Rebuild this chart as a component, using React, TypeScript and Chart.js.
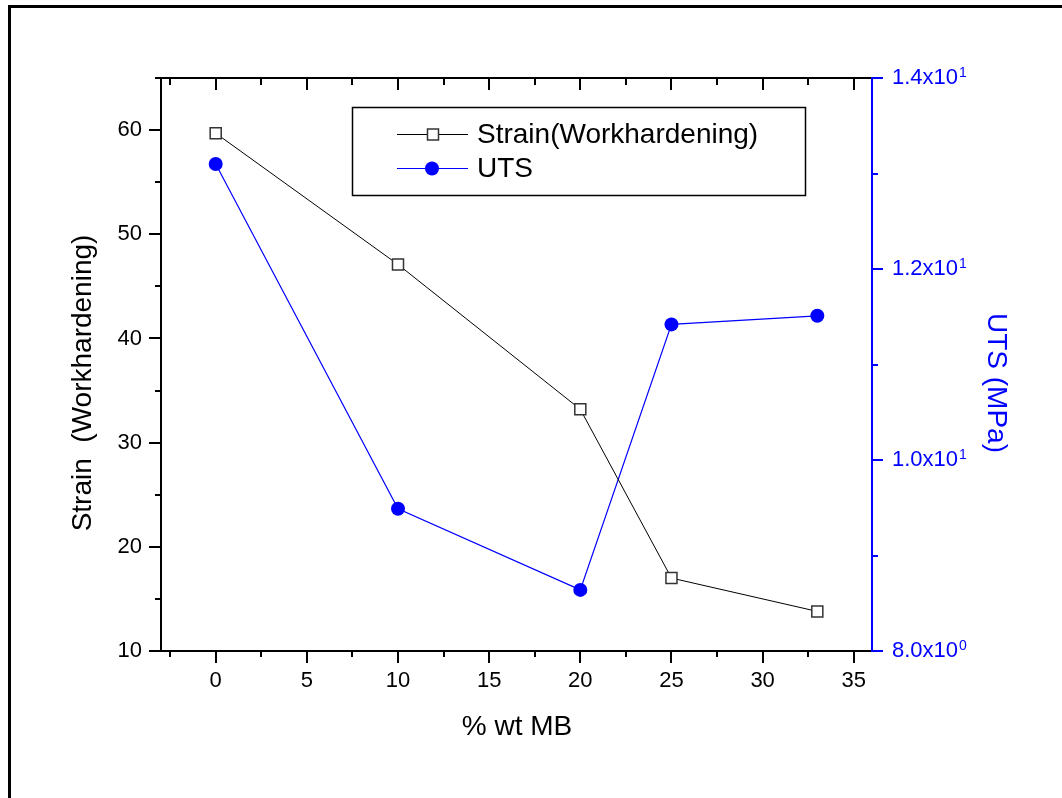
import React, { useEffect, useRef } from "react";
import { Chart, registerables } from "chart.js";

Chart.register(...registerables);

// ---- Data ----
const X_VALUES = [0, 10, 20, 25, 33];
const STRAIN = [59.7, 47.1, 33.2, 17.0, 13.8];
const UTS = [13.1, 9.49, 8.64, 11.42, 11.51];

// ---- Ticks / labels ----
const X_MAJOR = [0, 5, 10, 15, 20, 25, 30, 35];
const X_MINOR = [-2.5, 2.5, 7.5, 12.5, 17.5, 22.5, 27.5, 32.5];
const Y_MAJOR = [10, 20, 30, 40, 50, 60];
const Y_MINOR = [15, 25, 35, 45, 55, 65];
const Y2_MAJOR = [8, 10, 12, 14];
const Y2_MINOR = [9, 11, 13];
const Y2_MANTISSA = ["8.0x10", "1.0x10", "1.2x10", "1.4x10"];
const Y2_EXPONENT = ["0", "1", "1", "1"];

const X_TITLE = "% wt MB";
const Y_TITLE = "Strain  (Workhardening)";
const Y2_TITLE = "UTS (MPa)";
const STRAIN_LABEL = "Strain(Workhardening)";
const UTS_LABEL = "UTS";

const FONT = "'Liberation Sans', Arial, Helvetica, sans-serif";
const BLUE = "#0000ff";

const decor = {
  id: "decor",
  afterDraw(chart: any) {
    const { ctx, chartArea: a, scales } = chart;
    const sx = scales.x;
    const sy = scales.y;
    const sy2 = scales.y1;
    ctx.save();

    // outer frame (clipped at right/bottom)
    ctx.strokeStyle = "#000";
    ctx.lineWidth = 3;
    ctx.beginPath();
    ctx.moveTo(9.5, 820);
    ctx.lineTo(9.5, 6.5);
    ctx.lineTo(1100, 6.5);
    ctx.stroke();

    // black axes
    ctx.lineWidth = 2;
    ctx.strokeStyle = "#000";
    ctx.beginPath();
    ctx.moveTo(a.left, a.top - 1);
    ctx.lineTo(a.left, a.bottom + 1);
    ctx.moveTo(a.left - 1, a.bottom);
    ctx.lineTo(a.right, a.bottom);
    ctx.moveTo(a.left - 1, a.top);
    ctx.lineTo(a.right, a.top);
    ctx.stroke();

    // x ticks bottom (outward) and top (inward)
    ctx.beginPath();
    X_MAJOR.forEach((v) => {
      const px = Math.round(sx.getPixelForValue(v));
      ctx.moveTo(px, a.bottom);
      ctx.lineTo(px, a.bottom + 12);
      ctx.moveTo(px, a.top);
      ctx.lineTo(px, a.top + 12);
    });
    X_MINOR.forEach((v) => {
      const px = Math.round(sx.getPixelForValue(v));
      ctx.moveTo(px, a.bottom);
      ctx.lineTo(px, a.bottom + 6);
      ctx.moveTo(px, a.top);
      ctx.lineTo(px, a.top + 7);
    });
    // left ticks outward
    Y_MAJOR.forEach((v) => {
      const py = Math.round(sy.getPixelForValue(v));
      ctx.moveTo(a.left - 12, py);
      ctx.lineTo(a.left, py);
    });
    Y_MINOR.forEach((v) => {
      const py = Math.round(sy.getPixelForValue(v));
      ctx.moveTo(a.left - 6, py);
      ctx.lineTo(a.left, py);
    });
    ctx.stroke();

    // right blue axis
    ctx.strokeStyle = BLUE;
    ctx.beginPath();
    ctx.moveTo(a.right, a.top - 1);
    ctx.lineTo(a.right, a.bottom + 1);
    Y2_MAJOR.forEach((v) => {
      const py = Math.round(sy2.getPixelForValue(v));
      ctx.moveTo(a.right, py);
      ctx.lineTo(a.right + 11, py);
    });
    Y2_MINOR.forEach((v) => {
      const py = Math.round(sy2.getPixelForValue(v));
      ctx.moveTo(a.right, py);
      ctx.lineTo(a.right + 6, py);
    });
    ctx.stroke();

    // right labels with superscript
    ctx.fillStyle = BLUE;
    Y2_MAJOR.forEach((v, i) => {
      const py = sy2.getPixelForValue(v);
      const lx = a.right + 20;
      ctx.font = `22px ${FONT}`;
      ctx.textAlign = "left";
      ctx.textBaseline = "middle";
      ctx.fillText(Y2_MANTISSA[i], lx, py);
      const w = ctx.measureText(Y2_MANTISSA[i]).width;
      ctx.font = `14px ${FONT}`;
      ctx.textBaseline = "alphabetic";
      ctx.fillText(Y2_EXPONENT[i], lx + w + 1, py - 1);
    });

    // axis titles
    ctx.fillStyle = "#000";
    ctx.font = `28px ${FONT}`;
    ctx.textAlign = "center";
    ctx.textBaseline = "alphabetic";
    ctx.fillText(X_TITLE, 517, 735);

    ctx.save();
    ctx.translate(91, 383);
    ctx.rotate(-Math.PI / 2);
    ctx.fillText(Y_TITLE, 0, 0);
    ctx.restore();

    ctx.save();
    ctx.fillStyle = BLUE;
    ctx.translate(988, 383);
    ctx.rotate(Math.PI / 2);
    ctx.fillText(Y2_TITLE, 0, 0);
    ctx.restore();

    // legend
    const ds = chart.data.datasets;
    ctx.fillStyle = "#fff";
    ctx.fillRect(352, 107, 454, 89);
    ctx.strokeStyle = "#000";
    ctx.lineWidth = 1.5;
    ctx.strokeRect(352.5, 107.5, 453, 88);

    const rows = [134, 168];
    rows.forEach((ry, i) => {
      const d = ds[i];
      ctx.strokeStyle = d.borderColor;
      ctx.lineWidth = 1;
      ctx.beginPath();
      ctx.moveTo(397, ry + 0.5);
      ctx.lineTo(468, ry + 0.5);
      ctx.stroke();
      if (d.pointStyle === "rect") {
        ctx.fillStyle = "#fff";
        ctx.fillRect(427.5, ry - 5, 11, 11);
        ctx.strokeStyle = d.pointBorderColor;
        ctx.lineWidth = 1.5;
        ctx.strokeRect(427.5, ry - 5, 11, 11);
      } else {
        ctx.fillStyle = d.pointBackgroundColor;
        ctx.beginPath();
        ctx.arc(432, ry + 0.5, 7, 0, Math.PI * 2);
        ctx.fill();
      }
      ctx.fillStyle = "#000";
      ctx.font = `28px ${FONT}`;
      ctx.textAlign = "left";
      ctx.textBaseline = "middle";
      ctx.fillText(d.label, 477, ry + 1);
    });

    ctx.restore();
  },
};

export default function App() {
  const ref = useRef<HTMLCanvasElement | null>(null);

  useEffect(() => {
    if (!ref.current) return;
    const chart = new Chart(ref.current, {
      type: "line",
      data: {
        datasets: [
          {
            label: STRAIN_LABEL,
            data: X_VALUES.map((x, i) => ({ x, y: STRAIN[i] })),
            yAxisID: "y",
            borderColor: "#000",
            borderWidth: 1,
            pointStyle: "rect",
            pointRadius: 7.8,
            pointBackgroundColor: "#fff",
            pointBorderColor: "#333",
            pointBorderWidth: 1.5,
            tension: 0,
            fill: false,
          },
          {
            label: UTS_LABEL,
            data: X_VALUES.map((x, i) => ({ x, y: UTS[i] })),
            yAxisID: "y1",
            borderColor: BLUE,
            borderWidth: 1.2,
            pointStyle: "circle",
            pointRadius: 7,
            pointBackgroundColor: BLUE,
            pointBorderColor: BLUE,
            pointBorderWidth: 0,
            tension: 0,
            fill: false,
          },
        ],
      },
      options: {
        responsive: false,
        animation: false,
        devicePixelRatio: 1,
        events: [],
        layout: { padding: { top: 78, left: 0, right: 0, bottom: 0 } },
        plugins: { legend: { display: false }, tooltip: { enabled: false } },
        scales: {
          x: {
            type: "linear",
            position: "bottom",
            min: -3,
            max: 36,
            afterBuildTicks: (s: any) => {
              s.ticks = [...X_MINOR, ...X_MAJOR]
                .sort((p, q) => p - q)
                .map((v) => ({ value: v }));
            },
            afterFit: (s: any) => {
              s.height = 147;
            },
            grid: { display: false, drawTicks: false },
            border: { display: false },
            ticks: {
              autoSkip: false,
              maxRotation: 0,
              padding: 17,
              color: "#000",
              font: { family: FONT, size: 22 },
              callback: (v: any) => (X_MAJOR.includes(Number(v)) ? String(v) : ""),
            },
          },
          y: {
            type: "linear",
            position: "left",
            min: 10,
            max: 65,
            afterBuildTicks: (s: any) => {
              s.ticks = [...Y_MAJOR, ...Y_MINOR]
                .sort((p, q) => p - q)
                .map((v) => ({ value: v }));
            },
            afterFit: (s: any) => {
              s.width = 161;
            },
            grid: { display: false, drawTicks: false },
            border: { display: false },
            ticks: {
              autoSkip: false,
              padding: 19,
              color: "#000",
              font: { family: FONT, size: 22 },
              callback: (v: any) => (Y_MAJOR.includes(Number(v)) ? String(v) : ""),
            },
          },
          y1: {
            type: "linear",
            position: "right",
            min: 8,
            max: 14,
            afterBuildTicks: (s: any) => {
              s.ticks = [...Y2_MAJOR, ...Y2_MINOR]
                .sort((p, q) => p - q)
                .map((v) => ({ value: v }));
            },
            afterFit: (s: any) => {
              s.width = 190;
            },
            grid: { display: false, drawTicks: false },
            border: { display: false },
            ticks: { display: false },
          },
        },
      },
      plugins: [decor],
    } as any);
    return () => chart.destroy();
  }, []);

  return (
    <div
      style={{
        position: "fixed",
        left: 0,
        top: 0,
        width: 1062,
        height: 798,
        background: "#fff",
        overflow: "hidden",
      }}
    >
      <canvas ref={ref} width={1062} height={798} style={{ display: "block" }} />
    </div>
  );
}
